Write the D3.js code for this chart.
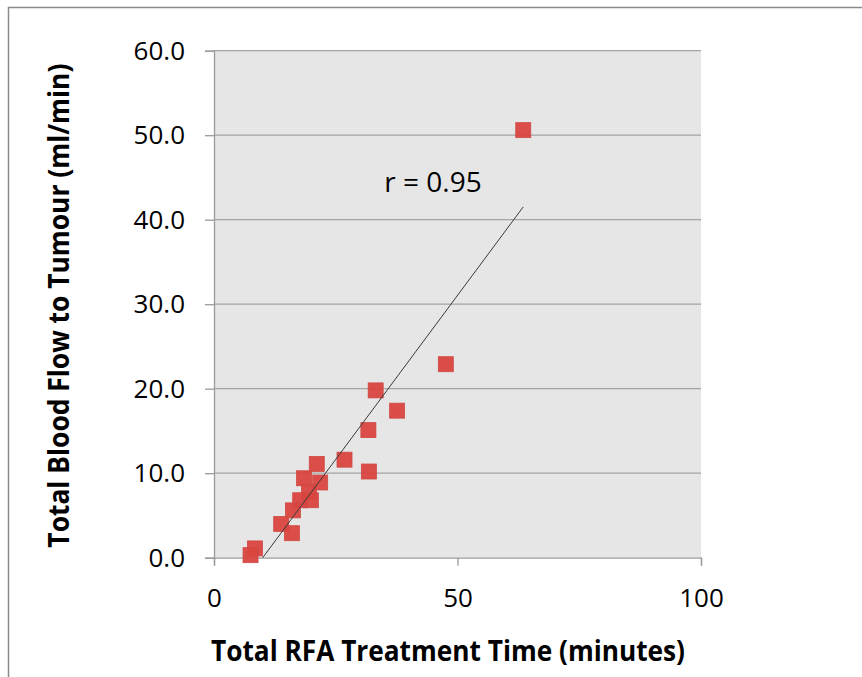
<!DOCTYPE html>
<html>
<head>
<meta charset="utf-8">
<script src="https://cdn.jsdelivr.net/npm/d3@7/dist/d3.min.js"></script>
<style>
  html, body { margin: 0; padding: 0; background: #fff; }
  svg { display: block; }
</style>
</head>
<body>
<svg id="chart" width="862" height="677"></svg>
<script>
// ---- data ----
const treatmentTime = [63.5, 47.6, 33.2, 37.6, 31.7, 26.8, 31.8, 21.1, 18.5, 21.8, 19.5, 17.7, 19.9, 16.2, 13.8, 16.0, 8.4, 7.5];
const bloodFlow     = [50.6, 22.9, 19.8, 17.4, 15.1, 11.6, 10.2, 11.1,  9.4,  8.9,  7.8,  6.8,  6.8,  5.6,  4.0,  2.9, 1.1, 0.3];
const xTicks = [0, 50, 100];
const yTicks = [0, 10, 20, 30, 40, 50, 60];
const trendSlope = 0.776;
const trendIntercept = -7.76;
const rLabel = "r = 0.95";
const xTitle = "Total RFA Treatment Time (minutes)";
const yTitle = "Total Blood Flow to Tumour (ml/min)";

// ---- layout ----
const svg = d3.select("#chart");
const plot = { left: 214, right: 701, top: 50.7, bottom: 557.7 };

// outer frame (only left and top edges visible)
svg.append("rect")
  .attr("x", 8.5).attr("y", 7.5).attr("width", 900).attr("height", 700)
  .attr("fill", "none").attr("stroke", "#8a8a8a").attr("stroke-width", 1.5);

const x = d3.scaleLinear().domain([0, 100]).range([plot.left, plot.right]);
const y = d3.scaleLinear().domain([0, 60]).range([plot.bottom, plot.top]);

// plot background
svg.append("rect")
  .attr("x", plot.left).attr("y", plot.top)
  .attr("width", plot.right - plot.left).attr("height", plot.bottom - plot.top)
  .attr("fill", "#e6e6e6");

// gridlines
svg.append("g").selectAll("line").data(yTicks.filter(d => d > 0)).join("line")
  .attr("x1", plot.left).attr("x2", plot.right)
  .attr("y1", d => y(d)).attr("y2", d => y(d))
  .attr("stroke", "#a3a3a3").attr("stroke-width", 1.3);

// y axis
const yAxis = d3.axisLeft(y).tickValues(yTicks).tickFormat(d3.format(".1f")).tickSize(9).tickPadding(20);
const gy = svg.append("g").attr("transform", `translate(${plot.left},0)`).call(yAxis);
gy.select(".domain").attr("stroke", "#9a9a9a").attr("stroke-width", 1.3);
gy.selectAll(".tick line").attr("stroke", "#9a9a9a").attr("stroke-width", 1.3);
gy.selectAll(".tick text").attr("fill", "#000")
  .style("font-family", "'Open Sans', sans-serif").style("font-size", "26px");

// x axis
const xAxis = d3.axisBottom(x).tickValues(xTicks).tickFormat(d3.format("d")).tickSize(8).tickPadding(23);
const gx = svg.append("g").attr("transform", `translate(0,${plot.bottom})`).call(xAxis);
gx.select(".domain").attr("stroke", "#9a9a9a").attr("stroke-width", 1.3);
gx.selectAll(".tick line").attr("stroke", "#9a9a9a").attr("stroke-width", 1.3);
gx.selectAll(".tick text").attr("fill", "#000")
  .style("font-family", "'Open Sans', sans-serif").style("font-size", "26px");

// clip for trendline
svg.append("clipPath").attr("id", "plotClip").append("rect")
  .attr("x", plot.left).attr("y", plot.top)
  .attr("width", plot.right - plot.left).attr("height", plot.bottom - plot.top);

const xMin = d3.min(treatmentTime), xMax = d3.max(treatmentTime);

// markers
const pts = treatmentTime.map((t, i) => ({ x: t, y: bloodFlow[i] }));
const s = 15;
svg.append("g").selectAll("rect").data(pts).join("rect")
  .attr("x", d => x(d.x) - s / 2).attr("y", d => y(d.y) - s / 2)
  .attr("width", s).attr("height", s)
  .attr("fill", "#d9443f").attr("fill-opacity", 0.95)
  .attr("stroke", "#cf4a45").attr("stroke-width", 0.8);

// linear trendline over data x-range, clipped to plot area
svg.append("line")
  .attr("clip-path", "url(#plotClip)")
  .attr("x1", x(xMin)).attr("y1", y(trendSlope * xMin + trendIntercept))
  .attr("x2", x(xMax)).attr("y2", y(trendSlope * xMax + trendIntercept))
  .attr("stroke", "#3a3a3a").attr("stroke-width", 1);

// r label
svg.append("text")
  .attr("x", 433).attr("y", 192)
  .attr("text-anchor", "middle")
  .style("font-family", "'Open Sans', sans-serif").style("font-size", "28px")
  .attr("fill", "#000")
  .text(rLabel);

// axis titles
svg.append("text")
  .attr("x", 448).attr("y", 661)
  .attr("text-anchor", "middle")
  .attr("textLength", 474).attr("lengthAdjust", "spacingAndGlyphs")
  .style("font-family", "'Open Sans', sans-serif").style("font-size", "28px").style("font-weight", "bold")
  .attr("fill", "#000")
  .text(xTitle);

svg.append("text")
  .attr("transform", `translate(69,${(63.7 + 547.6) / 2}) rotate(-90)`)
  .attr("text-anchor", "middle")
  .attr("textLength", 484).attr("lengthAdjust", "spacingAndGlyphs")
  .style("font-family", "'Open Sans', sans-serif").style("font-size", "28px").style("font-weight", "bold")
  .attr("fill", "#000")
  .text(yTitle);
</script>
</body>
</html>
